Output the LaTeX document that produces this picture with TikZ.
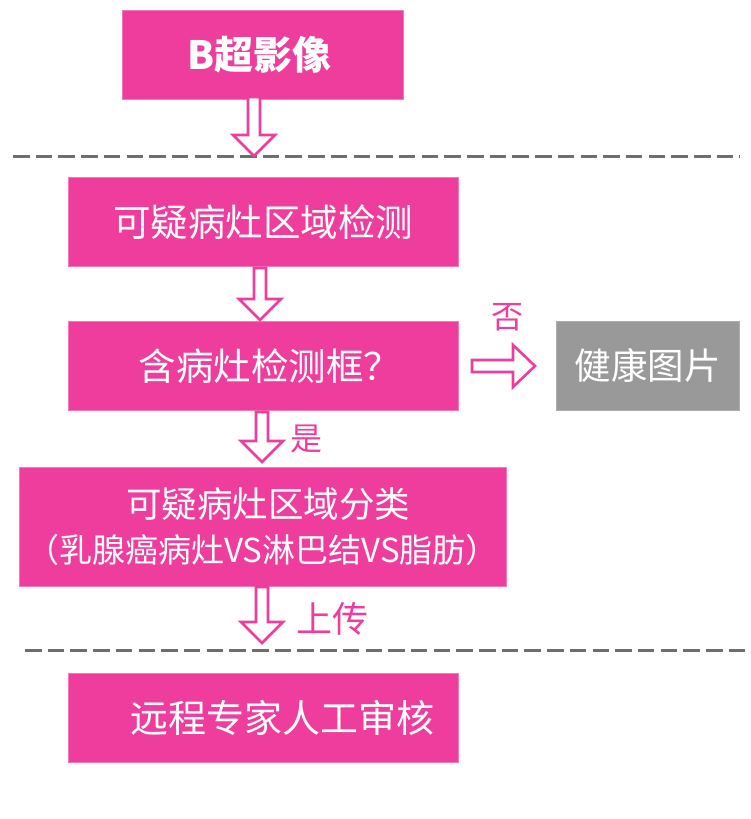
\documentclass[tikz,border=0pt]{standalone}
\usepackage{fontspec}
\setmainfont{Noto Sans CJK SC}
\definecolor{pk}{HTML}{EE3D9D}
\definecolor{gy}{HTML}{999999}
\definecolor{dl}{HTML}{6E6E6E}
\tikzset{
  box/.style={rectangle, fill=pk, draw=pk!70!white, line width=0.6pt, text=white, inner sep=0pt, align=center, font=\fontsize{37.5}{46}\selectfont},
  graybox/.style={box, fill=gy, draw=gy!80!white},
  arr/.style={draw=pk, fill=white, line width=2.6pt, line join=miter},
  sep/.style={draw=dl, line width=3pt, dash pattern=on 16.5pt off 6.2pt},
  lab/.style={text=pk, inner sep=0pt, font=\fontsize{32}{36}\selectfont}
}
\newcommand\dnarrow[3]{%
  \path[arr] (#1-6,#2) -- (#1-6,#3-21) -- (#1-21,#3-21) -- (#1,#3) -- (#1+21,#3-21) -- (#1+6,#3-21) -- (#1+6,#2) -- cycle;}
\begin{document}
\begin{tikzpicture}[x=1pt,y=-1pt]
\useasboundingbox (0,0) rectangle (750,819);
% boxes
\node[box, minimum width=281pt, minimum height=89pt, font=\fontsize{39}{44}\selectfont\bfseries] (b1) at (262.5,54.5) {B超影像\hspace{6pt}};
\node[box, minimum width=390pt, minimum height=89pt] (b2) at (263,222) {可疑病灶区域检测};
\node[box, minimum width=390pt, minimum height=89pt] (b3) at (263,366) {\hspace{14pt}含病灶检测框？};
\node[graybox, minimum width=183pt, minimum height=89pt, font=\fontsize{36.5}{40}\selectfont] (g) at (647.5,365.5) {健康图片};
\node[box, minimum width=487pt, minimum height=119pt, font=\fontsize{33}{45}\selectfont] (b4) at (262.5,526.5) {\hspace{12pt}{\fontsize{35.5}{40}\selectfont 可疑病灶区域分类}\\（乳腺癌病灶VS淋巴结VS脂肪）};
\node[box, minimum width=390pt, minimum height=89pt, font=\fontsize{38}{44}\selectfont] (b5) at (263,717.5) {\hspace{38pt}远程专家人工审核};
% separators
\coordinate (s1a) at (13,156); \coordinate (s1b) at (740,156);
\coordinate (s2a) at (25,650); \coordinate (s2b) at (748,650);
\path[sep] (s1a) -- (s1b);
\path[sep] (s2a) -- (s2b);
% block arrows
\dnarrow{254}{97}{156}
\dnarrow{260}{268}{320}
\dnarrow{262}{412}{462}
\dnarrow{262}{587}{643}
\path[arr] (472,360) -- (513,360) -- (513,345) -- (535,366) -- (513,387) -- (513,372) -- (472,372) -- cycle;
% labels
\node[lab] (no) at (507,317) {否};
\node[lab] (yes) at (306,439) {是};
\node[lab, font=\fontsize{36}{40}\selectfont] (up) at (332,619) {上传};
\end{tikzpicture}
\end{document}
